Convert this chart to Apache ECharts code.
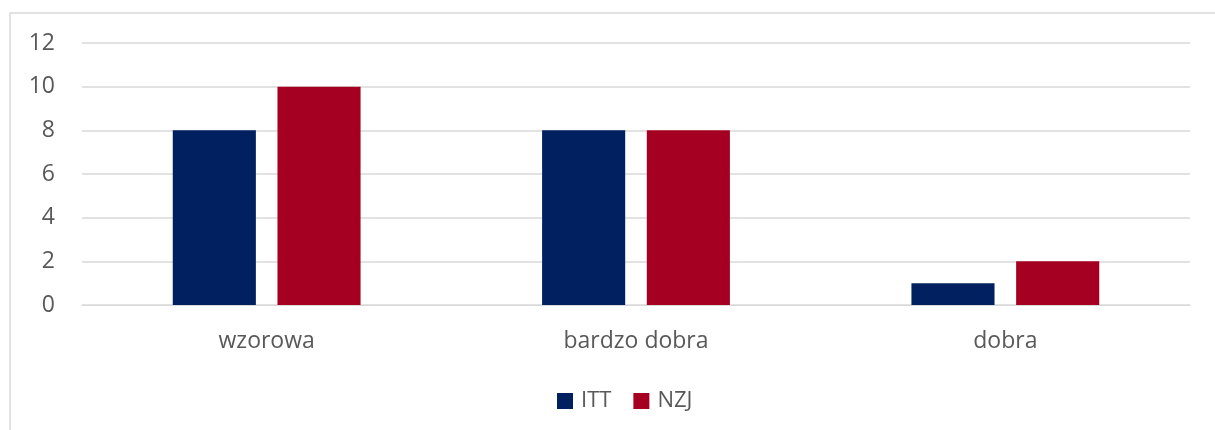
<!DOCTYPE html>
<html>
<head>
<meta charset="utf-8">
<script src="https://cdn.jsdelivr.net/npm/echarts@6/dist/echarts.min.js"></script>
<style>
html, body { margin: 0; padding: 0; background: #fff; }
#chart { width: 1215px; height: 430px; }
</style>
</head>
<body>
<div id="chart"></div>
<script>
var categories = ['wzorowa', 'bardzo dobra', 'dobra'];
var ittValues = [8, 8, 1];
var nzjValues = [10, 8, 2];

var chartDom = document.getElementById('chart');
var myChart = echarts.init(chartDom);

var textColor = '#595959';
var fontName = 'Open Sans';

var option = {
	animation: false,
	graphic: [{
		type: 'rect',
		shape: { x: 10, y: 13, width: 1230, height: 440 },
		style: { fill: 'none', stroke: '#d9d9d9', lineWidth: 1.5 },
		silent: true
	}],
	legend: {
		top: 385,
		left: 552,
		itemWidth: 16,
		itemHeight: 16,
		itemGap: 22,
		icon: 'rect',
		textStyle: { color: textColor, fontSize: 22, fontFamily: fontName, padding: [0, 0, 0, 3] },
		data: ['ITT', 'NZJ']
	},
	grid: { left: 82, right: 25, top: 43, bottom: 125 },
	xAxis: {
		type: 'category',
		data: categories,
		axisLine: { show: true, lineStyle: { color: '#d9d9d9' } },
		axisTick: { show: false },
		axisLabel: { color: textColor, fontSize: 23, fontFamily: fontName, margin: 25 }
	},
	yAxis: {
		type: 'value',
		min: 0,
		max: 12,
		interval: 2,
		axisLine: { show: false },
		axisTick: { show: false },
		splitLine: { lineStyle: { color: '#d9d9d9', width: 1.5 } },
		axisLabel: { color: textColor, fontSize: 23, fontFamily: fontName, margin: 27 }
	},
	series: [
		{
			name: 'ITT',
			type: 'bar',
			data: ittValues,
			barWidth: '22.5%',
			barGap: '26%',
			itemStyle: { color: '#002060' }
		},
		{
			name: 'NZJ',
			type: 'bar',
			data: nzjValues,
			barWidth: '22.5%',
			itemStyle: { color: '#A50021' }
		}
	]
};
myChart.setOption(option);
</script>
</body>
</html>
